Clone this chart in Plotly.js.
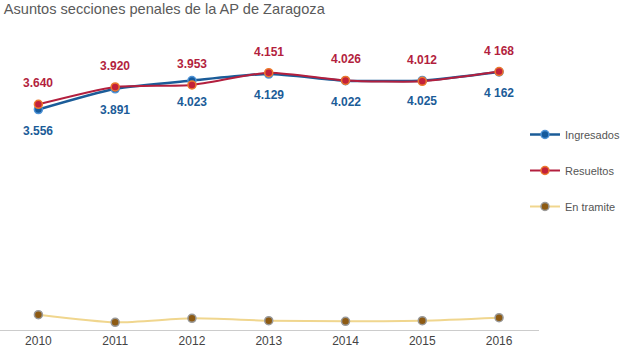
<!DOCTYPE html>
<html>
<head>
<meta charset="utf-8">
<script src="https://cdn.plot.ly/plotly-3.0.1.min.js"></script>
<style>html,body{margin:0;padding:0;background:#fff;}#chart{width:626px;height:351px;}</style>
</head>
<body>
<div id="chart"></div>
<script>
const years = [2010, 2011, 2012, 2013, 2014, 2015, 2016];
const ingresados = [3556, 3891, 4023, 4129, 4022, 4025, 4162];
const resueltos = [3640, 3920, 3953, 4151, 4026, 4012, 4168];
const enTramite = [247, 124, 189, 150, 140, 150, 198];
const ingresadosLabels = ["3.556", "3.891", "4.023", "4.129", "4.022", "4.025", "4 162"];
const resueltosLabels = ["3.640", "3.920", "3.953", "4.151", "4.026", "4.012", "4 168"];

const blue = "#1b5c98";
const red = "#b31f3e";

const traces = [
  {
    x: years, y: ingresados, name: "Ingresados", mode: "lines+markers",
    line: {color: blue, width: 2.5, shape: "spline", smoothing: 0.6},
    marker: {color: "#155a9c", size: 8, line: {color: "#4f93d6", width: 1.5}},
    legendgroup: "a", hoverinfo: "skip"
  },
  {
    x: years, y: resueltos, name: "Resueltos", mode: "lines+markers",
    line: {color: red, width: 2, shape: "spline", smoothing: 0.6},
    marker: {color: "#c3213a", size: 8, line: {color: "#ec7a2e", width: 1.5}},
    legendgroup: "b", hoverinfo: "skip"
  },
  {
    x: years, y: enTramite, name: "En tramite", mode: "lines+markers",
    line: {color: "#f0d68e", width: 2, shape: "spline", smoothing: 0.6},
    marker: {color: "#8d5a12", size: 8, line: {color: "#9a9a9a", width: 1.5}},
    legendgroup: "c", hoverinfo: "skip"
  }
];

const annotations = [];
years.forEach((yr, i) => {
  annotations.push({x: yr, y: resueltos[i], text: resueltosLabels[i], showarrow: false,
    yshift: 21, font: {family: "Liberation Sans, Arial, sans-serif", size: 12, color: red, weight: "bold"}});
  annotations.push({x: yr, y: ingresados[i], text: ingresadosLabels[i], showarrow: false,
    yshift: -21, font: {family: "Liberation Sans, Arial, sans-serif", size: 12, color: blue, weight: "bold"}});
});

const layout = {
  width: 626, height: 351,
  margin: {l: 0, r: 87, t: 30, b: 21, pad: 0, autoexpand: false},
  paper_bgcolor: "#fff", plot_bgcolor: "#fff",
  font: {family: "Liberation Sans, Arial, sans-serif", size: 12, color: "#444"},
  title: {text: "Asuntos secciones penales de la AP de Zaragoza", x: 0.006, xanchor: "left",
    xref: "container", yref: "container", y: 0.975, yanchor: "middle",
    font: {size: 14.6, color: "#5a5a5a"}},
  xaxis: {range: [2009.5, 2016.52], tickvals: years, ticktext: years.map(String),
    showgrid: false, zeroline: false, showline: true, linecolor: "#cccccc", linewidth: 1,
    ticks: "", tickfont: {size: 12, color: "#444"}, fixedrange: true},
  yaxis: {range: [0, 4839], visible: false, showgrid: false, zeroline: false, fixedrange: true},
  showlegend: true,
  legend: {x: 0.974, xanchor: "left", y: 0.70, yanchor: "top", tracegroupgap: 17,
    itemwidth: 30, font: {size: 11, color: "#555"}, bgcolor: "rgba(0,0,0,0)"},
  annotations: annotations
};

Plotly.newPlot("chart", traces, layout, {displayModeBar: false, staticPlot: true});
</script>
</body>
</html>
